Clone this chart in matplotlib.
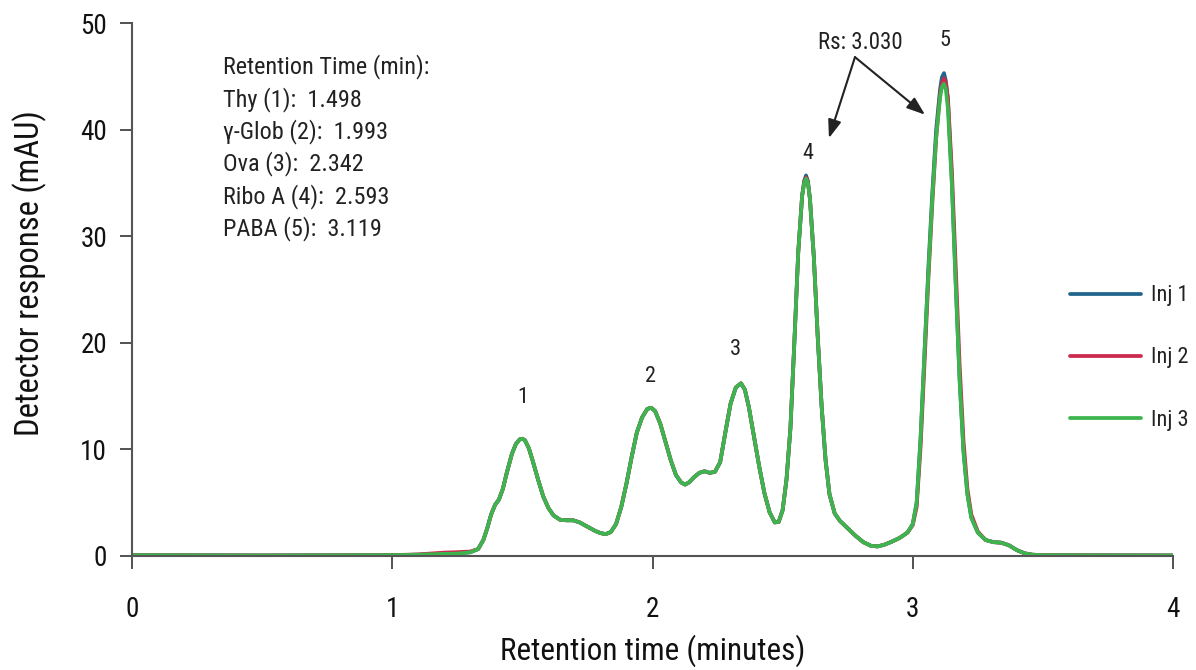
import matplotlib
matplotlib.use("Agg")
import matplotlib.pyplot as plt

plt.rcParams['font.family'] = ['Roboto Condensed', 'DejaVu Sans']

# Retention time (minutes) sample points
times = [0.00, 0.50, 1.00, 1.10, 1.20, 1.25, 1.30, 1.33, 1.35, 1.365,
         1.38, 1.395, 1.41, 1.425, 1.44, 1.46, 1.475, 1.49, 1.50, 1.51,
         1.525, 1.54, 1.56, 1.58, 1.60, 1.62, 1.645, 1.67, 1.695, 1.72,
         1.75, 1.78, 1.80, 1.82, 1.84, 1.86, 1.88, 1.90, 1.92, 1.94,
         1.96, 1.98, 1.995, 2.01, 2.03, 2.05, 2.07, 2.09, 2.11, 2.125,
         2.14, 2.16, 2.18, 2.20, 2.22, 2.24, 2.26, 2.28, 2.30, 2.32,
         2.34, 2.355, 2.37, 2.39, 2.41, 2.43, 2.45, 2.47, 2.485, 2.50,
         2.515, 2.53, 2.545, 2.56, 2.575, 2.583, 2.59, 2.597, 2.605, 2.62,
         2.635, 2.65, 2.665, 2.68, 2.70, 2.72, 2.75, 2.78, 2.81, 2.84,
         2.865, 2.89, 2.92, 2.95, 2.98, 3.00, 3.015, 3.03, 3.045, 3.06,
         3.075, 3.09, 3.105, 3.112, 3.12, 3.127, 3.135, 3.15, 3.165, 3.18,
         3.195, 3.21, 3.225, 3.25, 3.28, 3.31, 3.34, 3.37, 3.40, 3.43,
         3.46, 3.50, 3.75, 4.00]

inj1 = [0.08, 0.05, 0.08, 0.12, 0.20, 0.22, 0.35, 0.65, 1.5, 2.6,
        3.9, 4.8, 5.3, 6.3, 7.8, 9.6, 10.5, 10.95, 11.0, 10.85,
        10.1, 8.9, 7.2, 5.6, 4.5, 3.8, 3.4, 3.35, 3.35, 3.15,
        2.75, 2.35, 2.15, 2.05, 2.25, 3.0, 4.6, 6.8, 9.3, 11.6,
        13.0, 13.8, 13.9, 13.6, 12.4, 10.7, 9.0, 7.6, 6.9, 6.7,
        6.9, 7.4, 7.8, 7.95, 7.8, 7.9, 8.8, 11.6, 14.3, 15.8,
        16.2, 15.6, 14.0, 11.2, 8.4, 5.9, 4.1, 3.15, 3.2, 4.3,
        7.2, 12.0, 20.0, 28.5, 33.8, 35.2, 35.7, 35.2, 33.5, 28.0,
        20.5, 14.0, 9.0, 5.8, 4.0, 3.3, 2.6, 1.9, 1.3, 0.95,
        0.9, 1.05, 1.35, 1.7, 2.2, 3.0, 5.0, 11.0, 19.0, 27.0,
        34.0, 40.0, 43.8, 44.9, 45.3, 44.6, 42.8, 35.3, 25.7, 16.6,
        9.8, 5.8, 3.6, 2.2, 1.5, 1.3, 1.25, 1.0, 0.55, 0.25,
        0.12, 0.08, 0.06, 0.05]

inj2 = [0.08, 0.05, 0.08, 0.15, 0.32, 0.36, 0.42, 0.65, 1.5, 2.6,
        3.9, 4.8, 5.3, 6.3, 7.8, 9.6, 10.5, 10.95, 11.0, 10.85,
        10.1, 8.9, 7.2, 5.6, 4.5, 3.8, 3.4, 3.35, 3.35, 3.15,
        2.75, 2.35, 2.15, 2.05, 2.25, 3.0, 4.6, 6.8, 9.3, 11.6,
        13.0, 13.8, 13.9, 13.6, 12.4, 10.7, 9.0, 7.6, 6.9, 6.7,
        6.9, 7.4, 7.8, 7.95, 7.8, 7.9, 8.8, 11.6, 14.3, 15.8,
        16.2, 15.6, 14.0, 11.2, 8.4, 5.9, 4.1, 3.15, 3.2, 4.3,
        7.2, 12.0, 20.0, 28.5, 33.8, 35.1, 35.5, 35.1, 33.5, 28.0,
        20.5, 14.0, 9.0, 5.8, 4.0, 3.3, 2.6, 1.9, 1.3, 0.95,
        0.9, 1.05, 1.35, 1.7, 2.2, 2.9, 4.6, 10.2, 18.0, 26.0,
        33.0, 39.2, 43.4, 44.3, 44.8, 44.4, 43.0, 36.3, 27.2, 18.0,
        10.8, 6.3, 3.9, 2.3, 1.5, 1.3, 1.25, 1.0, 0.55, 0.25,
        0.12, 0.08, 0.06, 0.05]

inj3 = [0.08, 0.05, 0.08, 0.12, 0.20, 0.22, 0.35, 0.65, 1.5, 2.6,
        3.9, 4.8, 5.3, 6.3, 7.8, 9.6, 10.5, 10.95, 11.0, 10.85,
        10.1, 8.9, 7.2, 5.6, 4.5, 3.8, 3.4, 3.35, 3.35, 3.15,
        2.75, 2.35, 2.15, 2.05, 2.25, 3.0, 4.6, 6.8, 9.3, 11.6,
        13.0, 13.8, 13.9, 13.6, 12.4, 10.7, 9.0, 7.6, 6.9, 6.7,
        6.9, 7.4, 7.8, 7.95, 7.8, 7.9, 8.8, 11.6, 14.3, 15.8,
        16.2, 15.6, 14.0, 11.2, 8.4, 5.9, 4.1, 3.15, 3.2, 4.3,
        7.2, 12.0, 20.0, 28.5, 33.8, 35.0, 35.4, 35.0, 33.5, 28.0,
        20.5, 14.0, 9.0, 5.8, 4.0, 3.3, 2.6, 1.9, 1.3, 0.95,
        0.9, 1.05, 1.35, 1.7, 2.2, 3.0, 5.0, 11.0, 19.0, 26.5,
        33.5, 39.3, 43.0, 44.0, 44.3, 43.8, 42.0, 35.0, 25.5, 16.5,
        9.8, 5.8, 3.6, 2.2, 1.5, 1.3, 1.25, 1.0, 0.55, 0.25,
        0.12, 0.08, 0.06, 0.05]

series_labels = ["Inj 1", "Inj 2", "Inj 3"]
series_colors = ["#22658c", "#cc2a4c", "#3db54e"]

peak_labels = ["1", "2", "3", "4", "5"]
peak_label_x = [1.502, 1.994, 2.32, 2.597, 3.123]
peak_label_y = [14.9, 16.8, 19.4, 37.8, 48.4]

retention_lines = ["Retention Time (min):",
                   "Thy (1):  1.498",
                   "\u03b3-Glob (2):  1.993",
                   "Ova (3):  2.342",
                   "Ribo A (4):  2.593",
                   "PABA (5):  3.119"]

x_ticks = [0, 1, 2, 3, 4]
y_ticks = [0, 10, 20, 30, 40, 50]

fig = plt.figure(figsize=(11.96, 6.70), dpi=100)
ax = fig.add_axes([132 / 1196, 1 - 556 / 670, (1173 - 132) / 1196, (556 - 23) / 670])

for vals, lab, col in zip([inj1, inj2, inj3], series_labels, series_colors):
    ax.plot(times, vals, color=col, lw=2.7, label=lab, solid_capstyle='round',
            solid_joinstyle='round')

ax.set_xlim(0, 4)
ax.set_ylim(0, 50)
ax.set_xticks(x_ticks)
ax.set_yticks(y_ticks)
ax.tick_params(axis='both', direction='out', length=9, width=1.3, color='#444444',
               labelsize=19.5, labelcolor='#111111')
ax.tick_params(axis='x', pad=20)
ax.tick_params(axis='y', pad=9)
for s in ['top', 'right']:
    ax.spines[s].set_visible(False)
for s in ['left', 'bottom']:
    ax.spines[s].set_color('#555555')
    ax.spines[s].set_linewidth(1.5)

ax.set_xlabel("Retention time (minutes)", fontsize=22.5, color='#111111', va='center')
ax.xaxis.set_label_coords(0.5, -0.177)
ax.set_ylabel("Detector response (mAU)", fontsize=23.5, color='#111111', va='center')
ax.yaxis.set_label_coords(-0.098, 0.531)

for lab, px, py in zip(peak_labels, peak_label_x, peak_label_y):
    ax.text(px, py, lab, ha='center', va='center', fontsize=16, color='#222222')

for i, line in enumerate(retention_lines):
    ax.text(0.348, 45.9 - 3.04 * i, line, ha='left', va='center', fontsize=17.5,
            color='#222222')

ax.text(2.797, 48.2, "Rs: 3.030", ha='center', va='center', fontsize=16.5, color='#222222')
for tx, ty in [(2.678, 39.2), (3.047, 41.4)]:
    ax.annotate("", xy=(tx, ty), xytext=(2.778, 46.8),
                arrowprops=dict(arrowstyle='-|>,head_length=1.1,head_width=0.4',
                                color='#222222', lw=1.5, shrinkA=0, shrinkB=0))

leg = ax.legend(loc='center left', bbox_to_anchor=(1070 / 1196, 1 - 358 / 670),
                bbox_transform=fig.transFigure, frameon=False, fontsize=16,
                handlelength=3.2, handletextpad=0.45, labelspacing=1.85,
                borderpad=0, borderaxespad=0)
for t in leg.get_texts():
    t.set_color('#222222')

fig.savefig("out.png", dpi=100)
